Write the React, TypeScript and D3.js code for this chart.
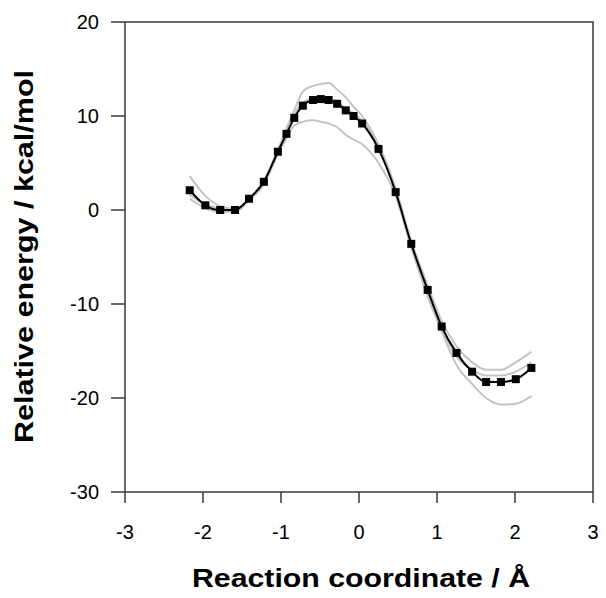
import React from "react";
import * as d3 from "d3";

const xTicks = [-3, -2, -1, 0, 1, 2, 3];
const yTicks = [-30, -20, -10, 0, 10, 20];

const coordX = [-2.17, -1.97, -1.78, -1.59, -1.41, -1.22, -1.04, -0.93, -0.83, -0.72, -0.59, -0.49, -0.39, -0.28, -0.17, -0.07, 0.04, 0.25, 0.47, 0.67, 0.88, 1.06, 1.25, 1.45, 1.63, 1.82, 2.01, 2.21];
const energyMean = [2.1, 0.5, 0.0, 0.0, 1.2, 3.0, 6.2, 8.1, 9.8, 11.1, 11.7, 11.8, 11.7, 11.3, 10.6, 10.0, 9.2, 6.5, 1.9, -3.6, -8.5, -12.4, -15.2, -17.2, -18.3, -18.3, -18.0, -16.8];
const energyRunA = [3.6, 1.5, 0.4, 0.1, 1.2, 3.1, 6.4, 8.7, 10.6, 12.6, 13.2, 13.4, 13.5, 12.8, 12.0, 11.0, 10.0, 7.0, 2.3, -3.3, -8.0, -11.8, -14.5, -16.2, -17.0, -17.0, -16.2, -15.1];
const energyRunB = [1.2, 0.2, -0.2, -0.2, 1.0, 2.7, 5.9, 7.6, 9.0, 9.4, 9.55, 9.4, 9.2, 8.8, 8.0, 7.5, 7.0, 5.0, 1.5, -4.0, -9.2, -12.9, -16.5, -18.5, -20.0, -20.7, -20.6, -19.8];
const energyRunC = [1.6, 0.6, 0.2, 0.0, 1.2, 3.0, 6.3, 8.4, 10.2, 11.4, 11.9, 12.0, 11.9, 11.5, 10.8, 10.3, 9.5, 6.8, 2.0, -3.7, -8.7, -12.6, -15.6, -17.0, -17.6, -17.6, -17.2, -16.2];

const grayRuns = [energyRunA, energyRunB, energyRunC];

export default function App() {
  const W = 606, H = 598;
  const left = 125, right = 593, top = 22, bottom = 492;
  const x = d3.scaleLinear().domain([-3, 3]).range([left, right]);
  const y = d3.scaleLinear().domain([-30, 20]).range([bottom, top]);
  const line = d3
    .line<[number, number]>()
    .x((d) => x(d[0]))
    .y((d) => y(d[1]))
    .curve(d3.curveMonotoneX);
  const pts = (ys: number[]) => coordX.map((cx, i) => [cx, ys[i]] as [number, number]);
  const axisColor = "#3a3a3a";
  const font = "'Liberation Sans', Arial, sans-serif";
  const m = 8;

  return (
    <svg
      width={W}
      height={H}
      style={{ position: "absolute", left: 0, top: 0, background: "#fff" }}
      fontFamily={font}
    >
      <rect x={0} y={0} width={W} height={H} fill="#fff" />
      {grayRuns.map((r, i) => (
        <path key={i} d={line(pts(r)) || ""} fill="none" stroke="#c4c4c4" strokeWidth={2} />
      ))}
      <path d={line(pts(energyMean)) || ""} fill="none" stroke="#000" strokeWidth={2} />
      {coordX.map((cx, i) => (
        <rect key={i} x={x(cx) - m / 2} y={y(energyMean[i]) - m / 2} width={m} height={m} fill="#000" />
      ))}
      <rect x={left} y={top} width={right - left} height={bottom - top} fill="none" stroke={axisColor} strokeWidth={1.5} />
      {yTicks.map((t) => (
        <g key={t}>
          <line x1={left - 14} x2={left} y1={y(t)} y2={y(t)} stroke={axisColor} strokeWidth={1.5} />
          <text x={99} y={y(t)} textAnchor="end" dominantBaseline="central" fontSize={20} fill="#000">
            {t}
          </text>
        </g>
      ))}
      {xTicks.map((t) => (
        <g key={t}>
          <line x1={x(t)} x2={x(t)} y1={bottom} y2={bottom + 11} stroke={axisColor} strokeWidth={1.5} />
          <text x={x(t)} y={531.5} textAnchor="middle" dominantBaseline="central" fontSize={20} fill="#000">
            {t}
          </text>
        </g>
      ))}
      <text
        x={361}
        y={587}
        textAnchor="middle"
        fontSize={25}
        fontWeight="bold"
        fill="#000"
        textLength={338}
        lengthAdjust="spacingAndGlyphs"
      >
        Reaction coordinate / Å
      </text>
      <text
        transform={`translate(33, 256.5) rotate(-90)`}
        x={0}
        y={0}
        textAnchor="middle"
        fontSize={25}
        fontWeight="bold"
        fill="#000"
        textLength={373}
        lengthAdjust="spacingAndGlyphs"
      >
        Relative energy / kcal/mol
      </text>
    </svg>
  );
}
